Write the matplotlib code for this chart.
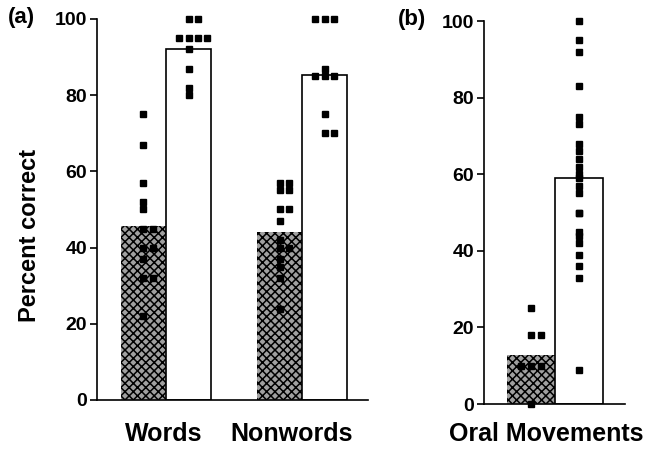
import numpy as np
import matplotlib
matplotlib.use("Agg")
import matplotlib.pyplot as plt

plt.rcParams['font.family'] = ['Liberation Sans', 'DejaVu Sans']
plt.rcParams['hatch.linewidth'] = 1.1
plt.rcParams['hatch.color'] = 'black'

#data
groups_a = ["Words", "Nonwords"]
groups_b = ["Oral Movements"]

# bar heights (group means), shaded bar then white bar
means_words = [45.7, 92.0]
means_nonwords = [44.2, 85.4]
means_oral = [12.8, 59.0]

# individual scores
words_shaded = [75, 67, 57, 52, 50, 45, 45, 40, 40, 37, 32, 32, 22]
words_white = [100, 100, 95, 95, 95, 95, 92, 87, 82, 80]
nonwords_shaded = [57, 57, 55, 55, 50, 50, 47, 42, 40, 40, 37, 35, 32, 24]
nonwords_white = [100, 100, 100, 87, 85, 85, 85, 75, 70, 70]
oral_shaded = [25, 18, 18, 10, 10, 10, 0]
oral_white = [100, 95, 92, 83, 75, 73, 68, 66, 64, 62, 60, 59, 57, 55,
              50, 50, 45, 44, 42, 39, 36, 33, 9]


#helper: equal scores sit side by side inside the bar
def dots(ax, xc, vals, step=0.21):
    vals = np.array(vals, dtype=float)
    xs = np.zeros(len(vals))
    for v in np.unique(vals):
        idx = np.where(vals == v)[0]
        n = len(idx)
        xs[idx] = xc + (np.arange(n) - (n - 1) // 2) * step
    ax.plot(xs, vals, "s", color="black", markersize=5, linestyle="none",
            clip_on=False, zorder=5)


def bars(ax, xc, m):
    ax.bar(xc - 0.5, m[0], width=1, color="#a0a0a0", edgecolor="black",
           hatch="xxxx", linewidth=0)
    ax.bar(xc + 0.5, m[1], width=1, fill=False, edgecolor="black",
           linewidth=1.2)


def style(ax, xpad):
    for s in ["top", "right"]:
        ax.spines[s].set_visible(False)
    for s in ["left", "bottom"]:
        ax.spines[s].set_linewidth(1.2)
    ax.set_ylim(0, 100)
    ax.set_yticks([0, 20, 40, 60, 80, 100])
    ax.tick_params(axis="y", direction="out", length=5, width=1.2,
                   labelsize=14, pad=2)
    ax.tick_params(axis="x", length=0, labelsize=18, pad=xpad)
    for lab in ax.get_yticklabels() + ax.get_xticklabels():
        lab.set_fontweight("bold")


fig = plt.figure(figsize=(6.53, 4.51), dpi=100)

#panel a
ax1 = fig.add_axes([0.1485, 0.1131, 0.415, 0.8448])
centers_a = [0, 3.02]
for xc, m, sh, wh in zip(centers_a, [means_words, means_nonwords],
                         [words_shaded, nonwords_shaded],
                         [words_white, nonwords_white]):
    bars(ax1, xc, m)
    dots(ax1, xc - 0.5, sh)
    dots(ax1, xc + 0.5, wh)
ax1.set_xlim(-1.53, 4.48)
ax1.set_xticks([-0.05, 2.78])
ax1.set_xticklabels(groups_a)
style(ax1, 16)

#panel b
ax2 = fig.add_axes([0.7412, 0.1042, 0.216, 0.849])
bars(ax2, 0, means_oral)
dots(ax2, -0.5, oral_shaded, step=0.2)
dots(ax2, 0.5, oral_white, step=0.0)
ax2.set_xlim(-1.48, 1.46)
ax2.set_xticks([-0.18])
ax2.set_xticklabels(groups_b)
style(ax2, 13)

fig.text(30 / 653, 1 - 235 / 451, "Percent correct", rotation=90,
         ha="center", va="center", fontsize=17, fontweight="bold")
fig.text(8 / 653, 1 - 18 / 451, "(a)", ha="left", va="center",
         fontsize=16, fontweight="bold")
fig.text(398 / 653, 1 - 20 / 451, "(b)", ha="left", va="center",
         fontsize=16, fontweight="bold")

fig.savefig("out.png", dpi=100)
plt.close()
